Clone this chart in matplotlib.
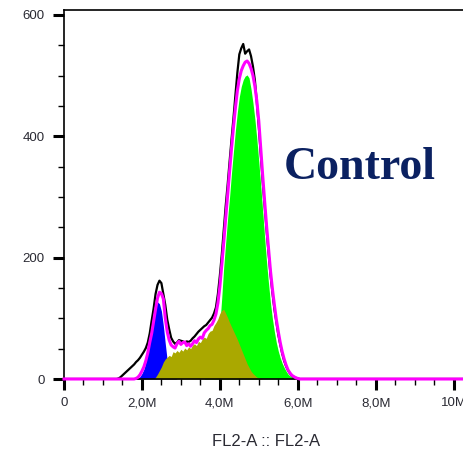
#!/usr/bin/env python3
"""
Cell cycle histogram (FL2-A) - Control
"""

import matplotlib
matplotlib.use('Agg')
import matplotlib.pyplot as plt
from matplotlib.ticker import MultipleLocator, FixedLocator
import numpy as np

# bin centres, in millions (FL2-A)
fl2 = np.round(np.arange(1.30, 6.101, 0.05), 2)

# raw histogram (black)
counts = [0, 0, 1, 3, 6, 9, 12, 15, 18, 21,
          24, 28, 31, 35, 40, 45, 51, 60, 75, 96,
          116, 140, 155, 162, 158, 140, 122, 98, 82, 68,
          62, 58, 60, 64, 63, 62, 60, 62, 61, 63,
          67, 70, 74, 78, 81, 84, 87, 89, 93, 97,
          101, 108, 118, 140, 170, 205, 245, 285, 320, 358,
          395, 430, 468, 505, 535, 545, 552, 536, 540, 543,
          532, 515, 492, 455, 415, 370, 325, 285, 245, 208,
          172, 142, 115, 94, 73, 57, 42, 30, 21, 14,
          9, 5, 3, 2, 1, 0, 0]

# model fit (magenta)
fit = [0, 0, 0, 0, 0, 0, 0, 0, 0, 0,
       0, 1, 3, 7, 13, 20, 30, 43, 60, 75,
       95, 115, 133, 143, 141, 132, 100, 78, 64, 56,
       53, 51, 58, 62, 57, 60, 61, 55, 58, 54,
       58, 63, 60, 66, 69, 67, 76, 80, 83, 88,
       90, 97, 107, 125, 152, 188, 225, 265, 303, 342,
       380, 415, 447, 475, 495, 508, 516, 522, 524, 520,
       512, 500, 482, 458, 425, 380, 335, 293, 252, 215,
       178, 148, 122, 98, 78, 60, 45, 33, 23, 15,
       10, 6, 4, 2, 1, 0, 0]

# components
blue_peak = [0, 0, 0, 0, 0, 0, 0, 0, 0, 0,
             0, 0, 1, 4, 9, 16, 28, 45, 65, 85,
             103, 118, 127, 124, 112, 88, 58, 30, 18, 9,
             4, 2, 0] + [0] * 64

s_phase = [0] * 19 + [0, 0, 3, 8, 14, 20, 28, 33, 36, 39, 37,
                      45, 43, 47, 44, 49, 46, 51, 48, 53, 50,
                      56, 58, 55, 62, 60, 66, 69, 67, 75, 79,
                      80, 88, 93, 99, 108, 113, 115, 108, 101, 93,
                      86, 79, 72, 65, 57, 49, 41, 33, 25, 19,
                      13, 9, 6, 3, 2, 1, 0] + [0] * 20

green_peak = [0] * 46 + [0, 2, 5, 10, 18, 30, 45, 65, 90, 135,
                         185, 225, 265, 300, 340, 375, 410, 440, 465, 482,
                         493, 499, 501, 496, 478, 455, 428, 395, 358, 318,
                         276, 233, 192, 157, 125, 99, 78, 60, 46, 35,
                         26, 19, 13, 8, 5, 3, 1, 0, 0, 0, 0]

# pad to full axis range
xs = np.concatenate([[0.0], fl2, [10.4]])


def pad(v):
    return np.concatenate([[0], np.asarray(v, float), [0]])


fig = plt.figure(figsize=(4.63, 4.5), dpi=100)
ax = fig.add_axes([64 / 463, 1 - 379 / 450, 1 - 64 / 463 + 0.01, 369 / 450])

ax.fill_between(xs, pad(green_peak), color='#00ff00', lw=0, zorder=1)
ax.fill_between(xs, pad(blue_peak), color='#0000ff', lw=0, zorder=1.1)
ax.fill_between(xs, pad(s_phase), color='#aaa800', lw=0, zorder=1.2)
ax.plot(xs, pad(counts), color='black', lw=1.6, zorder=2)
ax.plot(xs, pad(fit), color='#ff00ff', lw=2.2, zorder=3, clip_on=False)

ax.set_xlim(0, 10.36)
ax.set_ylim(0, 608)

ax.spines['right'].set_visible(False)
for s in ('left', 'top', 'bottom'):
    ax.spines[s].set_linewidth(1.2)

ax.xaxis.set_major_locator(FixedLocator([0, 2, 4, 6, 8, 10]))
ax.xaxis.set_minor_locator(MultipleLocator(0.5))
ax.set_xticklabels(['0', '2,0M', '4,0M', '6,0M', '8,0M', '10M'])
ax.yaxis.set_major_locator(FixedLocator([0, 200, 400, 600]))
ax.yaxis.set_minor_locator(MultipleLocator(50))

ax.tick_params(which='major', length=8, width=2.2, labelsize=9.5,
               labelcolor='#2a2a33', pad=6, labelfontfamily='Liberation Sans')
ax.tick_params(axis='x', which='major', pad=5)
ax.tick_params(which='minor', length=4, width=1)

ax.set_xlabel('FL2-A :: FL2-A', fontsize=12, family='Liberation Sans',
              color='#2a2a33', labelpad=18)

fig.text(360 / 463, 1 - 168 / 450, 'Control', ha='center', va='center',
         family='Liberation Serif', weight='bold', fontsize=33,
         color='#0b2161')

plt.savefig('out.png', dpi=100)
plt.close(fig)
